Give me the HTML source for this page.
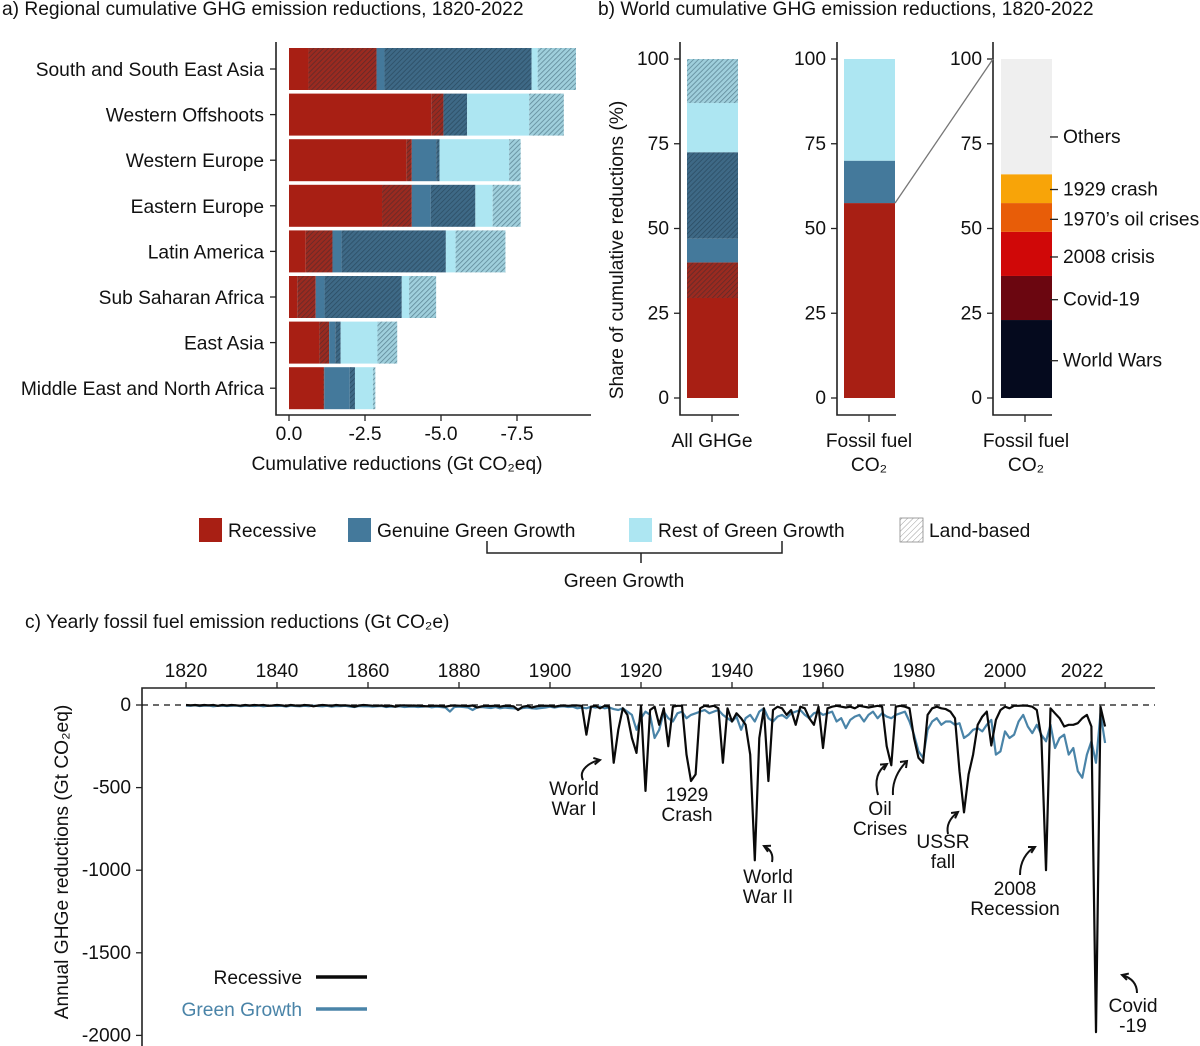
<!DOCTYPE html>
<html><head><meta charset="utf-8">
<style>
html,body{margin:0;padding:0;background:#fff;}
svg{display:block;font-family:"Liberation Sans",Arial,sans-serif;}
</style></head>
<body>
<svg id="chart" width="1200" height="1046" viewBox="0 0 1200 1046" xmlns="http://www.w3.org/2000/svg">
<defs>
<pattern id="hR" patternUnits="userSpaceOnUse" width="3.5" height="3.5" patternTransform="rotate(45)"><rect width="4" height="4" fill="#9a2a20"/><line x1="0" y1="0" x2="0" y2="4" stroke="#5a2a2a" stroke-width="1.4"/></pattern>
<pattern id="hB" patternUnits="userSpaceOnUse" width="3.5" height="3.5" patternTransform="rotate(45)"><rect width="4" height="4" fill="#3e6986"/><line x1="0" y1="0" x2="0" y2="4" stroke="#2a4a60" stroke-width="1.4"/></pattern>
<pattern id="hL" patternUnits="userSpaceOnUse" width="3.5" height="3.5" patternTransform="rotate(45)"><rect width="4" height="4" fill="#9fcfdc"/><line x1="0" y1="0" x2="0" y2="4" stroke="#5f8898" stroke-width="1.6"/></pattern>
<pattern id="hW" patternUnits="userSpaceOnUse" width="4" height="4" patternTransform="rotate(45)"><rect width="4" height="4" fill="#fff"/><line x1="0" y1="0" x2="0" y2="4" stroke="#888" stroke-width="0.8"/></pattern>
</defs>
<g id="pa"></g>
<g id="pb"></g>
<g id="lg"></g>
<g id="pc"></g>
</svg>
<script>
// ---------- Panel a data ----------
const regions = ["South and South East Asia","Western Offshoots","Western Europe","Eastern Europe","Latin America","Sub Saharan Africa","East Asia","Middle East and North Africa"];
const segKinds = ["rec","recLand","gg","ggLand","rest","restLand"];
const regionSegments = [
 [0.64,2.24,0.26,4.84,0.20,1.26],
 [4.68,0.40,0.00,0.78,2.04,1.14],
 [3.86,0.18,0.80,0.11,2.29,0.38],
 [3.06,0.98,0.62,1.47,0.57,0.92],
 [0.55,0.88,0.30,3.43,0.32,1.64],
 [0.27,0.61,0.29,2.54,0.24,0.89],
 [0.99,0.33,0.20,0.18,1.21,0.65],
 [1.12,0.04,0.84,0.17,0.59,0.08]
];
const aTicks = [0, 2.5, 5, 7.5];
const aTickLabels = ["0.0","-2.5","-5.0","-7.5"];
// ---------- Panel b data ----------
const bBar1 = [29.5,10.5,7,25.5,14.5,13];
const bBar1Kinds = ["rec","recLand","gg","ggLand","rest","restLand"];
const bBar2 = [57.5,12.5,30];
const bBar2Kinds = ["rec","gg","rest"];
const bBar3Labels = ["World Wars","Covid-19","2008 crisis","1970\u2019s oil crises","1929 crash","Others"];
const bBar3 = [23,13,13,8.5,8.5,34];
const bBar3Colors = ["#050a1e","#6b0610","#d00808","#e85d08","#f8a408","#efefef"];
const bBar3LabelAt = [11,29,41.6,52.7,61.5,77];
const bTicks = [0,25,50,75,100];
// ---------- Panel c data ----------
const years = []; for (let y = 1820; y <= 2022; y++) years.push(y);
const recessive = [
 0,-2,0,-3,0,-2,0,-5,0,-3, 0,-2,-4,0,-3,0,-2,0,-5,-3, 0,-2,-6,0,-3,-5,0,-2,-8,-3, 0,-2,-5,0,-3,-2,-4,-10,-3,0,
 -2,-4,-5,-3,-8,-4,-10,-3,-2,-5, -3,-4,-6,-8,-5,-4,-6,-10,-5,-3, -4,-5,-6,-3,-15,-8,-5,-6,-4,-10, -5,-6,-8,-30,-10,-6,-15,-8,-5,-4,
 -5,-10,-5,-3,-5,-3,-3,-5,-180,-10, -5,-20,-5,-10,-350,-150,-20,-60,-200,-290,
 -5,-520,-30,-10,-120,-20,-250,-10,-5,-5, -300,-460,-420,-20,-5,-10,-5,-20,-350,-20,
 -100,-50,-80,-120,-300,-940,-200,-20,-460,-30, -10,-20,-60,-30,-120,-10,-20,-80,-120,-10,
 -260,-20,-10,-5,-10,-15,-10,-20,-5,-10, -15,-10,-5,-10,-250,-365,-10,-5,-10,-20,
 -200,-320,-350,-60,-20,-10,-20,-25,-40,-80, -400,-650,-420,-300,-120,-70,-40,-245,-90,-30,
 -10,-20,-5,-5,-3,-5,-10,-30,-200,-1000, -20,-50,-80,-130,-120,-120,-110,-80,-60,-130,
 -1980,-10,-130
];
const greenGrowth = [
 -3,-5,-2,-6,-4,-3,-8,-5,-4,-6, -5,-3,-7,-5,-4,-6,-3,-8,-5,-4, -6,-5,-9,-4,-6,-8,-5,-7,-4,-6, -8,-5,-10,-6,-7,-5,-9,-12,-6,-8,
 -7,-10,-8,-6,-12,-9,-10,-8,-12,-10, -9,-12,-10,-8,-14,-10,-12,-15,-40,-12, -10,-12,-15,-30,-14,-12,-15,-18,-12,-20, -15,-18,-20,-25,-18,-15,-20,-22,-18,-15,
 -10,-15,-10,-8,-12,-10,-20,-15,-20,-10, -15,-10,-20,-15,-25,-30,-20,-40,-60,-150,
 -80,-40,-60,-200,-150,-40,-80,-100,-50,-40, -80,-60,-50,-40,-30,-50,-40,-30,-60,-80,
 -100,-70,-150,-80,-60,-100,-40,-20,-80,-100, -70,-60,-80,-50,-40,-30,-60,-80,-50,-40,
 -60,-50,-40,-100,-80,-140,-90,-70,-60,-100, -60,-40,-80,-50,-70,-80,-60,-50,-40,-100,
 -180,-280,-320,-150,-100,-80,-120,-100,-100,-120, -110,-200,-180,-150,-140,-160,-120,-90,-300,-280,
 -160,-200,-180,-100,-60,-130,-170,-120,-180,-220, -120,-260,-200,-180,-300,-260,-400,-440,-300,-220,
 -350,-50,-230
];
const cYearTicks = [1820,1840,1860,1880,1900,1920,1940,1960,1980,2000,2022];
const cValTicks = [0,-500,-1000,-1500,-2000];

const NS = "http://www.w3.org/2000/svg";
const FS = 19.2;
function mk(parent, tag, attrs, text){
  const e = document.createElementNS(NS, tag);
  for (const k in attrs) e.setAttribute(k, attrs[k]);
  if (text !== undefined) e.textContent = text;
  parent.appendChild(e); return e;
}
const fillFor = {rec:"#a81f14", recLand:"url(#hR)", gg:"#44799b", ggLand:"url(#hB)", rest:"#ade6f2", restLand:"url(#hL)"};

// ---------- Panel a ----------
const pa = document.getElementById("pa");
const ax = v => 289 + v * 30.4;
const rowY = i => 48 + i * 45.6;
let t = mk(pa,"text",{x:2,y:15,"font-size":FS,fill:"#111"},"a) Regional cumulative GHG emission reductions, 1820-2022");
 
regions.forEach((r,i)=>{
  const y = rowY(i);
  let acc = 0;
  regionSegments[i].forEach((v,j)=>{
    if (v<=0) return;
    const rc = mk(pa,"rect",{x:ax(acc),y:y,width:v*30.4,height:42,fill:fillFor[segKinds[j]]});
    
    
    acc += v;
  });
  const lb = mk(pa,"text",{x:264,y:y+28,"text-anchor":"end","font-size":FS,fill:"#111"},r);
  
  
  mk(pa,"line",{x1:270,x2:276,y1:y+21,y2:y+21,stroke:"#222","stroke-width":1.3});
});
mk(pa,"path",{d:"M276 42 V415 H591",fill:"none",stroke:"#222","stroke-width":1.6});
aTicks.forEach((v,i)=>{
  mk(pa,"line",{x1:ax(v),x2:ax(v),y1:415,y2:421,stroke:"#222","stroke-width":1.3});
  const tl = mk(pa,"text",{x:ax(v),y:440,"text-anchor":"middle","font-size":FS,fill:"#111"},aTickLabels[i]);
   
});
t = mk(pa,"text",{x:397,y:470,"text-anchor":"middle","font-size":FS,fill:"#111"},"Cumulative reductions (Gt CO\u2082eq)");
 

// ---------- Panel b ----------
const pb = document.getElementById("pb");
const by = v => 398 - v * 3.39;
t = mk(pb,"text",{x:598,y:15,"font-size":FS,fill:"#111"},"b) World cumulative GHG emission reductions, 1820-2022");
 
const axesX = [680, 837, 993];
const barX = [687, 844, 1001];
axesX.forEach((axx,k)=>{
  mk(pb,"path",{d:`M${axx} 42 V415 H${axx+59}`,fill:"none",stroke:"#222","stroke-width":1.6});
  mk(pb,"line",{x1:axx+32,x2:axx+32,y1:415,y2:422,stroke:"#222","stroke-width":1.3});
  bTicks.forEach(v=>{
    mk(pb,"line",{x1:axx-6,x2:axx,y1:by(v),y2:by(v),stroke:"#222","stroke-width":1.3});
    const tl = mk(pb,"text",{x:axx-11,y:by(v)+6,"text-anchor":"end","font-size":FS,fill:"#111"},String(v));
     
  });
});
function stack(vals, fills, x, name){
  let acc = 0;
  vals.forEach((v,j)=>{
    const rc = mk(pb,"rect",{x:x,y:by(acc+v),width:51,height:v*3.39,fill:fills[j]});
    
    
    acc += v;
  });
}
stack(bBar1, bBar1Kinds.map(k=>fillFor[k]), barX[0], 'all-ghge');
stack(bBar2, bBar2Kinds.map(k=>fillFor[k]), barX[1], 'fossil-co2');
stack(bBar3, bBar3Colors, barX[2], 'recessive-breakdown');
mk(pb,"line",{x1:barX[1]+51,y1:by(bBar2[0]),x2:993,y2:by(100),stroke:"#777","stroke-width":1.3});
bBar3.forEach((v,j)=>{
  const cy = by(bBar3LabelAt[j]);
  mk(pb,"line",{x1:1050,x2:1058,y1:cy,y2:cy,stroke:"#222","stroke-width":1.3});
  const tl = mk(pb,"text",{x:1063,y:cy+6,"font-size":FS,fill:"#111"},bBar3Labels[j]);
   
});
t = mk(pb,"text",{x:712,y:447,"text-anchor":"middle","font-size":FS,fill:"#111"},"All GHGe");
 
[869,1026].forEach(cx=>{
  t = mk(pb,"text",{x:cx,y:447,"text-anchor":"middle","font-size":FS,fill:"#111"},"Fossil fuel");
   
  t = mk(pb,"text",{x:cx,y:471,"text-anchor":"middle","font-size":FS,fill:"#111"},"CO\u2082");
   
});
t = mk(pb,"text",{x:0,y:0,"text-anchor":"middle","font-size":FS,fill:"#111",transform:"translate(623,250) rotate(-90)"},"Share of  cumulative reductions (%)");
 

// ---------- Legend ----------
const lg = document.getElementById("lg");
const legendItems = [["Recessive","#a81f14",199],["Genuine Green Growth","#44799b",348],["Rest of Green Growth","#ade6f2",629],["Land-based","url(#hW)",900]];
legendItems.forEach(it=>{
  const r = mk(lg,"rect",{x:it[2],y:518,width:23,height:24,fill:it[1],stroke:it[0]==="Land-based"?"#888":"none","stroke-width":0.8});
   
  const tl = mk(lg,"text",{x:it[2]+29,y:537,"font-size":FS,fill:"#111"},it[0]);
   
});
mk(lg,"path",{d:"M487 541 V553 H782 V541 M641 553 V563",fill:"none",stroke:"#222","stroke-width":1.5});
t = mk(lg,"text",{x:624,y:587,"text-anchor":"middle","font-size":FS,fill:"#111"},"Green Growth");
 

// ---------- Panel c ----------
const pc = document.getElementById("pc");
const cx = yr => 550 + (yr - 1900) * 4.55;
const cy = v => 705 - v * 0.1652;
t = mk(pc,"text",{x:25,y:628,"font-size":FS,fill:"#111"},"c) Yearly fossil fuel emission reductions (Gt CO\u2082e)");
 
mk(pc,"path",{d:"M142 1046 V688 H1155",fill:"none",stroke:"#222","stroke-width":1.6});
cYearTicks.forEach(yr=>{
  mk(pc,"line",{x1:cx(yr),x2:cx(yr),y1:682,y2:688,stroke:"#222","stroke-width":1.3});
  const lx = yr === 2022 ? cx(yr) - 23 : cx(yr);
  const tl = mk(pc,"text",{x:lx,y:677,"text-anchor":"middle","font-size":FS,fill:"#111"},String(yr));
   
});
cValTicks.forEach(v=>{
  mk(pc,"line",{x1:136,x2:142,y1:cy(v),y2:cy(v),stroke:"#222","stroke-width":1.3});
  const tl = mk(pc,"text",{x:131,y:cy(v)+6,"text-anchor":"end","font-size":FS,fill:"#111"},String(v));
   
});
mk(pc,"line",{x1:142,x2:1155,y1:cy(0),y2:cy(0),stroke:"#111","stroke-width":1.3,"stroke-dasharray":"6,5"});
function series(vals, color, name){
  const d = vals.map((v,i)=>(i?"L":"M")+cx(years[i]).toFixed(1)+" "+cy(v).toFixed(1)).join(" ");
  const p = mk(pc,"path",{d:d,fill:"none",stroke:color,"stroke-width":2.2,"stroke-linejoin":"round"});
  
  
}
series(greenGrowth,"#4a84a8","green-growth-line");
series(recessive,"#0a0a0a","recessive-line");
t = mk(pc,"text",{x:0,y:0,"text-anchor":"middle","font-size":FS,fill:"#111",transform:"translate(68,862) rotate(-90)"},"Annual GHGe reductions (Gt CO\u2082eq)");
 
const notes = [
 ["World","War I",574,795,"M583 780 C578 770 590 762 600 760"],
 ["1929","Crash",687,801,null],
 ["World","War II",768,883,"M772 862 C774 852 768 848 764 846"],
 ["Oil","Crises",880,815,"M878 795 C874 780 878 770 887 764"],
 ["USSR","fall",943,848,"M948 834 C946 825 950 818 958 812"],
 ["2008","Recession",1015,895,"M1020 875 C1020 862 1026 852 1035 847"],
 ["Covid","-19",1133,1012,"M1137 993 C1137 984 1132 978 1122 975"]
];
notes.forEach(n=>{
  let a = mk(pc,"text",{x:n[2],y:n[3],"text-anchor":"middle","font-size":FS,fill:"#111"},n[0]);
   
  a = mk(pc,"text",{x:n[2],y:n[3]+20,"text-anchor":"middle","font-size":FS,fill:"#111"},n[1]);
   
  if (n[4]) {
    mk(pc,"path",{d:n[4],fill:"none",stroke:"#111","stroke-width":2});
    const pts = n[4].split(/[ MC]+/).filter(s=>s).map(Number);
    const ex = pts[pts.length-2], ey = pts[pts.length-1], px = pts[pts.length-4], py = pts[pts.length-3];
    const ang = Math.atan2(ey-py, ex-px);
    const h = 7;
    const p1 = [ex - h*Math.cos(ang-0.5), ey - h*Math.sin(ang-0.5)];
    const p2 = [ex - h*Math.cos(ang+0.5), ey - h*Math.sin(ang+0.5)];
    mk(pc,"path",{d:`M${p1[0]} ${p1[1]} L${ex} ${ey} L${p2[0]} ${p2[1]}`,fill:"none",stroke:"#111","stroke-width":2});
  }
});
mk(pc,"path",{d:"M893 795 C892 782 898 770 907 761",fill:"none",stroke:"#111","stroke-width":2});
mk(pc,"path",{d:"M900 762 L907 761 L906 768",fill:"none",stroke:"#111","stroke-width":2});
t = mk(pc,"text",{x:302,y:984,"text-anchor":"end","font-size":FS,fill:"#111"},"Recessive");
 
mk(pc,"line",{x1:316,x2:367,y1:977,y2:977,stroke:"#0a0a0a","stroke-width":3.5});
t = mk(pc,"text",{x:302,y:1016,"text-anchor":"end","font-size":FS,fill:"#4a84a8"},"Green Growth");
 
mk(pc,"line",{x1:316,x2:367,y1:1009,y2:1009,stroke:"#4a84a8","stroke-width":3.5});
</script>
</body></html>
